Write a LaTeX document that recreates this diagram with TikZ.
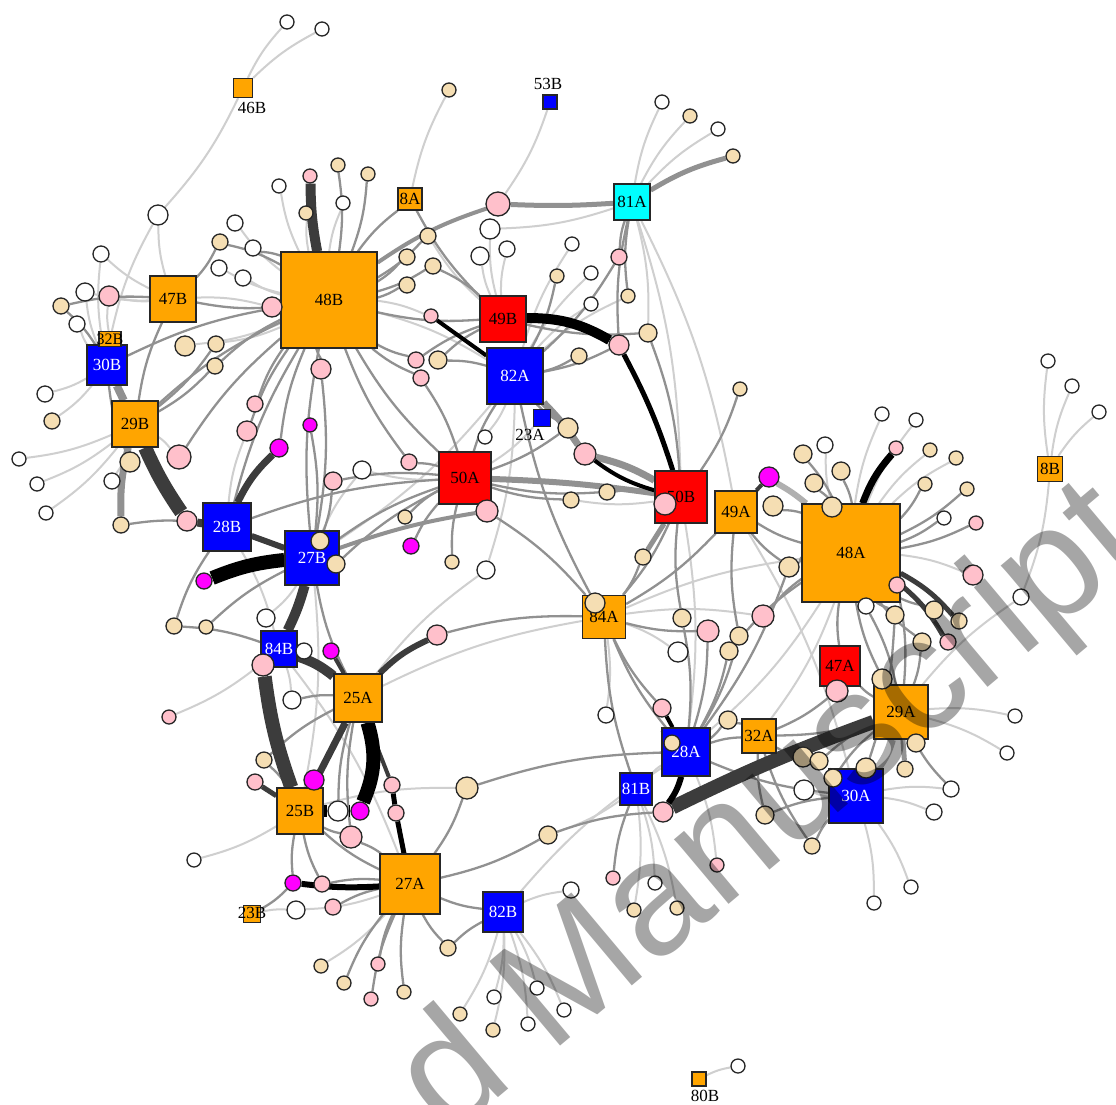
\documentclass[tikz,border=0pt]{standalone}
\usepackage{fontspec}
\setmainfont{Liberation Serif}
\newfontfamily\wmfont{Liberation Sans}
\usetikzlibrary{backgrounds}
\definecolor{corange}{HTML}{FFA500}
\definecolor{cblue}{HTML}{0000FF}
\definecolor{cred}{HTML}{FF0000}
\definecolor{ccyan}{HTML}{00FFFF}
\definecolor{cw}{HTML}{FFFFFF}
\definecolor{ct}{HTML}{F5DEB3}
\definecolor{cp}{HTML}{FFC0CB}
\definecolor{cm}{HTML}{FF00FF}
\definecolor{eLc}{HTML}{CFCFCF}
\definecolor{eMc}{HTML}{B0B0B0}
\definecolor{eGc}{HTML}{919191}
\definecolor{eDc}{HTML}{3C3C3C}
\tikzset{
 hub/.style={draw=black!85, line width=1.3pt, inner sep=0pt, font=\fontsize{17}{17}\selectfont},
 ho/.style={hub, fill=corange, minimum size=#1},
 hb/.style={hub, fill=cblue, text=white, minimum size=#1},
 hr/.style={hub, fill=cred, minimum size=#1},
 hc/.style={hub, fill=ccyan, minimum size=#1},
 lbl/.style={inner sep=0pt, font=\fontsize{17}{17}\selectfont},
 dot/.style={circle, draw=black!85, line width=1.3pt, inner sep=0pt},
 eL/.style={draw=eLc, line width=2pt},
 eM/.style={draw=eMc, line width=2pt},
 eG/.style={draw=eGc, line width=2.3pt},
 eD/.style={draw=eDc},
 eK/.style={draw=black},
}
\begin{document}
\begin{tikzpicture}[x=1pt,y=-1pt]
\useasboundingbox (0,0) rectangle (1116,1104);
% hubs
\node[ho=19] (n46B) at (243,88) {};
\node[lbl] (l46B) at (252,108) {46B};
\node[hb=14] (n53B) at (550,102) {};
\node[lbl] (l53B) at (548,84) {53B};
\node[ho=22, minimum width=24] (n8A) at (410,199) {};
\node[lbl] (l8A) at (410,199) {8A};
\node[hc=36] (n81A) at (632,202) {81A};
\node[ho=46] (n47B) at (173,299) {47B};
\node[ho=96] (n48B) at (329,300) {48B};
\node[hb=40] (n30B) at (107,365) {30B};
\node[ho=15, minimum width=22] (n32B) at (110,339) {};
\node[lbl, font=\fontsize{16}{16}\selectfont] (l32B) at (110,339) {32B};
\node[hr=46] (n49B) at (503,319) {49B};
\node[hb=56] (n82A) at (515,376) {82A};
\node[hb=17] (n23A) at (542,418) {};
\node[lbl] (l23A) at (530,435) {23A};
\node[ho=46] (n29B) at (135,424) {29B};
\node[hr=52] (n50A) at (465,478) {50A};
\node[hr=52] (n50B) at (681,497) {50B};
\node[ho=42] (n49A) at (736,512) {49A};
\node[ho=98] (n48A) at (851,553) {48A};
\node[ho=25] (n8B) at (1050,469) {};
\node[lbl] (l8B) at (1050,469) {8B};
\node[hb=48] (n28B) at (227,527) {28B};
\node[hb=54] (n27B) at (312,558) {27B};
\node[ho=43] (n84A) at (604,617) {84A};
\node[hb=36] (n84B) at (279,649) {84B};
\node[hr=40] (n47A) at (840,666) {47A};
\node[ho=48] (n25A) at (358,698) {25A};
\node[ho=54] (n29A) at (901,712) {29A};
\node[ho=34] (n32A) at (759,736) {32A};
\node[hb=48] (n28A) at (686,752) {28A};
\node[hb=32] (n81B) at (636,789) {81B};
\node[hb=54] (n30A) at (856,796) {30A};
\node[ho=46] (n25B) at (300,811) {25B};
\node[ho=60] (n27A) at (410,884) {27A};
\node[hb=40] (n82B) at (503,912) {82B};
\node[ho=17] (n23B) at (252,914) {};
\node[lbl] (l23B) at (252,913) {23B};
\node[ho=14] (n80B) at (699,1079) {};
\node[lbl] (l80B) at (705,1096) {80B};
% circles
\foreach \n/\x/\y/\r in {a1/287/22/7, a2/322/29/7, a3/158/215/10, a4/101/254/8, a5/235/223/8, a7/253/248/8, a8/219/268/8, a9/243/278/8, a10/85/292/9, a13/77/324/8, a18/279/186/7, a22/343/203/7, b3/490/229/10, b4/480/256/9, b5/507/249/8, b14/572/244/7, b16/591/273/7, b17/591/304/7, b23/662/102/7, b25/718/129/7, r1/1048/361/7, r2/1072/386/7, r3/1099/412/7, r5/1021/597/8, l1/45/394/8, l3/19/459/7, l4/37/484/7, l5/46/513/7, l7/112/481/8, l17/362/470/9, l23/266/618/9, l24/304/651/8, l27/292/700/9, m5/486/570/9, m7/485/437/7, m18/678/652/10, m22/606/715/8, q3/825/445/8, q10/882/414/7, q11/916/420/7, q17/944/518/7, q20/866/606/8, q28/1015/716/7, s4/338/811/10, s7/194/860/7, s10/296/910/9, t4/571/890/8, t6/655/883/7, t13/494/997/7, t15/528/1024/7, t16/537/988/7, t17/564/1010/7, t18/738/1066/7, u1/804/790/10, u8/1007/753/7, u9/951/789/8, u10/934/812/8, u13/911/887/7, u14/874/903/7}
  \node[dot, fill=cw, minimum size=2*\r] (\n) at (\x,\y) {};
\foreach \n/\x/\y/\r in {a6/220/242/8, a12/61/306/8, a14/185/346/10, a15/216/344/8, a16/215/366/8, a20/338/165/7, a21/306/213/7, a23/368/174/7, b1/449/90/7, b6/428/236/8, b7/407/257/8, b8/433/266/8, b9/407/285/8, b12/438/360/9, b15/557/276/7, b19/628/296/7, b20/648/333/9, b22/579/356/8, b24/690/116/7, b26/733/156/7, r6/740/389/7, l2/52/421/8, l6/130/462/10, l8/121/525/8, l18/320/541/9, l19/336/564/9, l21/174/626/8, l22/206/627/7, m2/405/517/7, m4/452/562/7, m8/568/428/10, m10/571/500/8, m11/607/492/8, m13/643/557/8, m14/595/603/10, m16/682/618/9, m19/729/651/9, m20/739/636/9, m23/728/720/9, q2/803/454/9, q4/841/471/9, q5/814/483/9, q6/832/507/10, q7/773/506/10, q8/789/567/10, q13/930/450/7, q14/956/458/7, q15/925/484/7, q16/967/489/7, q21/895/615/9, q22/934/610/9, q23/959/621/8, q24/922/642/9, q26/882/679/10, s1/264/760/8, s12/321/966/7, s13/344/983/7, s16/404/992/7, t1/467/788/11, t2/548/835/9, t3/448/948/8, t7/634/910/7, t8/677/908/7, t11/672/743/8, t12/460/1014/7, t14/493/1030/7, u2/803/757/10, u3/819/761/9, u4/833/778/9, u5/866/768/10, u6/905/769/8, u7/916/743/9, u11/765/815/9, u12/812/846/8}
  \node[dot, fill=ct, minimum size=2*\r] (\n) at (\x,\y) {};
\foreach \n/\x/\y/\r in {a11/109/296/10, a17/272/307/10, a19/310/176/7, b2/498/204/12, b10/431/316/7, b11/416/360/8, b13/421/378/8, b18/619/257/8, b21/619/345/10, r4/973/575/10, l9/179/457/12, l10/187/521/10, l11/255/404/8, l12/247/431/10, l15/321/369/10, l16/333/481/9, l26/263/665/11, l28/169/717/7, m1/409/462/8, m6/487/511/11, m9/585/454/11, m12/665/504/11, m15/437/635/10, m17/708/631/11, m21/662/708/9, q9/763/616/11, q12/896/448/7, q18/976/523/7, q19/897/585/8, q25/948/642/8, q27/837/691/11, s2/255/782/8, s6/351/837/11, s9/322/884/8, s11/333/907/8, s14/371/999/7, s15/378/964/7, s17/392/785/8, s18/396/813/8, t5/613/878/7, t9/717/865/7, t10/663/812/10}
  \node[dot, fill=cp, minimum size=2*\r] (\n) at (\x,\y) {};
\foreach \n/\x/\y/\r in {l13/310/425/7, l14/279/448/9, l20/204/581/8, l25/331/651/8, m3/411/546/8, q1/769/477/10, s3/314/780/10, s5/360/811/9, s8/293/883/8}
  \node[dot, fill=cm, minimum size=2*\r] (\n) at (\x,\y) {};
% edges
\begin{pgfonlayer}{background}
\fill[white] (0,0) rectangle (1116,1104);
\foreach \a/\b in {n46B/a1, n46B/a2, n46B/a3, n47B/a3, n32B/a3, n47B/a4, n30B/a4, n48B/a5, n48B/a8, n48B/a9, n47B/a10, n30B/a10, n47B/a11, n32B/a11, n30B/a13, n48B/a14, n48B/a15, n47B/a17, n48B/a18, n48B/a21, n48B/a22, n8A/b1, n53B/b2, n49B/b3, n81A/b3, n49B/b4, n49B/b5, n49B/b6, n48B/b10, n82A/b14, n82A/b16, n82A/b17, n82A/b19, n81A/b20, n81A/b23, n81A/b24, n81A/b25, n8B/r1, n8B/r2, n8B/r3, n48A/r4, n8B/r5, n29A/r5, n30B/l1, n30B/l2, n29B/l3, n29B/l4, n29B/l5, n29B/l7, n29B/l9, n28B/l12, n27B/l17, n50A/l17, n27B/l23, n84B/l24, n84B/l27, n84B/l28, n82A/m5, n25A/m5, n82A/m7, n50B/m10, n84A/m18, n84A/m22, n48A/q3, n84A/q9, n48A/q10, n48A/q11, n48A/q13, n48A/q14, n29A/q28, n25B/s7, n23B/s10, n27A/s10, n27A/s12, n25B/t1, n82B/t4, n81B/t6, n81B/t7, n81B/t8, n28A/t9, n82B/t12, n82B/t13, n82B/t14, n82B/t15, n82B/t16, n82B/t17, n80B/t18, n30A/u1, n29A/u8, n30A/u9, n30A/u10, n30A/u13, n30A/u14, n81A/n50B, n81A/n49A, n50B/n28A, n84A/n48A, n48B/n82A, n28B/n84B, n82A/n27B, n48A/n32A, n49A/n30A, n48A/n28A, n23A/n50A, n27B/n25B, n84B/n27A, n25A/n84A, n82B/n28A, n81B/n28A, n81B/t2}
  \draw[eL] (\a) to[bend left=8] (\b);
\foreach \a/\b in {n48B/a6, n47B/a6, n48B/a7, n47B/a12, n30B/a12, n29B/a15, n48B/a16, n29B/a16, n48B/a17, n48B/a20, n48B/a23, n48B/b6, n48B/b7, n48B/b8, n49B/b8, n48B/b9, n48B/b11, n49B/b11, n49B/b12, n82A/b12, n50A/b13, n48B/b13, n82A/b15, n81A/b18, n82A/b18, n81A/b19, n49B/b20, n50B/b20, n81A/b21, n82A/b21, n82A/b22, n50B/r6, n29B/l6, n30B/l6, n28B/l8, n48B/l9, n48B/l11, n48B/l12, n27B/l13, n48B/l14, n48B/l15, n27B/l15, n27B/l16, n50A/l16, n27B/l18, n27B/l19, n50A/l19, n28B/l21, n84B/l21, n27B/l22, n25A/l27, n50A/m1, n48B/m1, n50A/m2, n50A/m3, n50A/m4, n50A/m6, n84A/m6, n82A/m8, n50A/m8, n50A/m10, n50A/m11, n50B/m11, n50B/m12, n84A/m13, n84A/m14, n82A/m14, n84A/m15, n50B/m16, n28A/m16, n84A/m17, n28A/m17, n28A/m19, n48A/m19, n49A/m20, n28A/m20, n84A/m21, n28A/m23, n32A/m23, n48A/q2, n48A/q4, n48A/q5, n48A/q6, n48A/q7, n48A/q8, n49A/q8, n28A/q8, n48A/q9, n48A/q15, n48A/q16, n48A/q17, n48A/q18, n48A/q19, n29A/q19, n48A/q20, n29A/q20, n48A/q21, n30A/q21, n48A/q22, n48A/q24, n29A/q24, n29A/q26, n48A/q26, n47A/q27, n32A/q27, n25B/s1, n25A/s1, n25B/s3, n25A/s4, n25B/s6, n27A/s6, n25A/s6, n25B/s8, n23B/s8, n27A/s9, n25B/s9, n27A/s11, n27A/s13, n27A/s14, n27A/s15, n27A/s16, n28A/t1, n27A/t1, n27A/t2, t10/t2, n27A/t3, n82B/t3, n81B/t5, n28A/t11, n29A/u2, n32A/u2, n29A/u3, n30A/u4, n29A/u4, n30A/u5, n29A/u7, n29A/u9, n30A/u11, n32A/u11, n32A/u12, n30A/u12, n48B/n30B, n48B/n29B, n48B/n28B, n48B/n27B, n48B/n49B, n48B/n50A, n82A/n50A, n50A/n27B, n50A/n28B, n27B/n25A, n25B/n27A, n27A/n82B, n84A/n50B, n84A/n49A, n84A/n28A, n84A/n81B, n49A/n48A, n48A/n47A, n47A/n29A, n32A/n29A, n32A/n28A, n28A/n30A, n8A/n48B, n8A/n49B, n47B/n29B, n47B/n48B}
  \draw[eG] (\a) to[bend right=8] (\b);
% thick grey
\draw[eG, line width=5pt] (n81A) to[bend left=3] (b2);
\draw[eG, line width=4pt] (n48B) to[bend left=8] (b2);
\draw[eG, line width=5pt] (n81A) to[bend left=8] (b26);
\draw[eG, line width=7pt] (n29B) to[bend right=8] (l8);
\draw[eG, line width=7pt] (n82A) to[bend left=5] (m9);
\draw[eG, line width=7pt] (m9) to[bend left=8] (n50B);
\draw[eG, line width=6pt] (n50A) to[bend left=3] (n50B);
\draw[eG, line width=5pt] (n50B) -- (m13);
\draw[eG, line width=4pt] (n27B) to[bend left=5] (m6);
\draw[eG, line width=8pt] (n29B) -- (n30B);
\draw[eG, line width=5pt] (n29A) -- (u6);
\draw[eM, line width=6pt] (n48A) to[bend right=5] (q1);
\draw[eM, line width=8pt] (n29A) to[bend left=10] (n30A);
% dark
\draw[eD, line width=10pt] (n48B) to[bend left=5] (a19);
\draw[eD, line width=14pt] (n29B) to[bend right=5] (l10);
\draw[eD, line width=8pt] (l10) -- (n28B);
\draw[eD, line width=7pt] (n28B) to[bend left=10] (l14);
\draw[eD, line width=10pt] (n27B) to[bend left=5] (n84B);
\draw[eD, line width=6pt] (n84B) -- (l26);
\draw[eD, line width=14pt] (l26) to[bend right=6] (n25B);
\draw[eD, line width=10pt] (n84B) to[bend left=10] (n25A);
\draw[eD, line width=4pt] (n25A) -- (l25);
\draw[eD, line width=6pt] (n25A) to[bend left=10] (m15);
\draw[eD, line width=5pt] (n25B) -- (s2);
\draw[eD, line width=5pt] (n48A) to[bend left=10] (q23);
\draw[eD, line width=5pt] (n48A) to[bend left=10] (q25);
\draw[eD, line width=4pt] (n49A) -- (q1);
\draw[eD, line width=6pt] (n28B) -- (n27B);
\draw[eD, line width=14pt] (t10) to[bend left=3] (n29A);
\draw[eD, line width=7pt] (n25A) -- (n25B);
\draw[eD, line width=4pt] (n25A) -- (s17);
% black
\draw[eK, line width=4pt] (n82A) -- (b10);
\draw[eK, line width=10pt] (n49B) to[bend left=15] (b21);
\draw[eK, line width=5pt] (b21) to[bend left=5] (n50B);
\draw[eK, line width=14pt] (n27B) to[bend right=8] (l20);
\draw[eK, line width=4pt] (m9) to[bend right=10] (n50B);
\draw[eK, line width=7pt] (n48A) to[bend left=10] (q12);
\draw[eK, line width=6pt] (n28A) to[bend left=10] (t10);
\draw[eK, line width=4pt] (n28A) -- (m21);
\draw[eK, line width=12pt] (n25B) -- (s4);
\draw[eK, line width=12pt] (s4) -- (s5);
\draw[eK, line width=14pt] (n25A) to[bend left=20] (s5);
\draw[eK, line width=6pt] (n27A) to[bend left=5] (s8);
\draw[eK, line width=5pt] (s17) -- (s18);
\draw[eK, line width=5pt] (s18) -- (n27A);
\end{pgfonlayer}
% watermark
\begin{scope}
\clip (0,0) rectangle (1116,1104);
\node[anchor=base west, rotate=40, text=black, text opacity=0.35, inner sep=0pt, font=\wmfont\fontsize{160}{160}\selectfont] (wm) at (448,1140) {d Manuscript};
\end{scope}
\end{tikzpicture}
\end{document}
